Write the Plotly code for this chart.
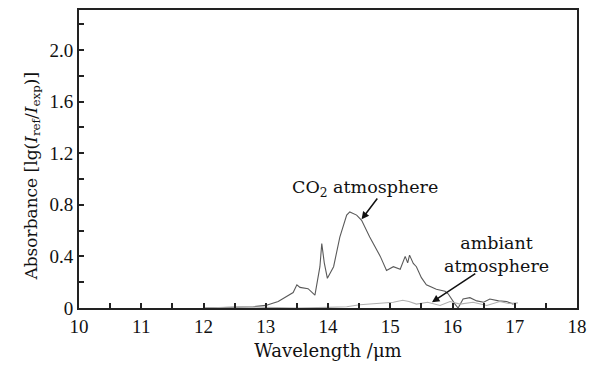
import plotly.graph_objects as go

# CO2 atmosphere absorbance
co2_x = [12.0, 12.5, 12.8, 13.0, 13.2, 13.44, 13.50, 13.55, 13.68, 13.79, 13.87, 13.90, 13.94, 13.99,
         14.09, 14.19, 14.30, 14.35, 14.46, 14.54, 14.67, 14.84, 14.94, 15.05, 15.16, 15.24,
         15.28, 15.31, 15.37, 15.42, 15.50, 15.58, 15.74, 15.88, 15.93, 16.04, 16.09, 16.17,
         16.28, 16.39, 16.50, 16.60, 16.74, 16.87, 16.98]
co2_y = [0.0, 0.005, 0.01, 0.02, 0.05, 0.12, 0.18, 0.16, 0.15, 0.10, 0.32, 0.50, 0.35, 0.23,
         0.32, 0.55, 0.72, 0.745, 0.72, 0.68, 0.55, 0.40, 0.29, 0.32, 0.30, 0.40,
         0.35, 0.41, 0.345, 0.32, 0.235, 0.18, 0.145, 0.13, 0.11, 0.03, 0.0, 0.07,
         0.08, 0.055, 0.045, 0.07, 0.055, 0.05, 0.03]

# Ambient atmosphere absorbance
amb_x = [12.0, 12.6, 13.0, 13.5, 14.0, 14.3, 14.51, 14.84, 15.05, 15.2, 15.3, 15.42, 15.6,
         15.8, 15.96, 16.12, 16.33, 16.55, 16.76, 16.9, 17.05]
amb_y = [0.0, 0.01, 0.005, 0.0, 0.005, 0.01, 0.025, 0.04, 0.045, 0.06, 0.05, 0.03, 0.045,
         0.02, 0.05, 0.03, 0.045, 0.02, 0.05, 0.035, 0.04]

x_tick_vals = [10, 11, 12, 13, 14, 15, 16, 17, 18]
y_tick_vals = [0, 0.4, 0.8, 1.2, 1.6, 2.0]
y_tick_text = ["0", "0.4", "0.8", "1.2", "1.6", "2.0"]

TICKFONT = "Liberation Serif"
TEXTFONT = "DejaVu Serif"

fig = go.Figure()
fig.add_trace(go.Scatter(x=co2_x, y=co2_y, mode="lines",
                         line=dict(color="#5a5a5a", width=1.1), showlegend=False))
fig.add_trace(go.Scatter(x=amb_x, y=amb_y, mode="lines",
                         line=dict(color="#b0b0b0", width=1.1), showlegend=False))

fig.add_annotation(x=14.59, y=0.93, text="CO<sub>2</sub> atmosphere", showarrow=False,
                   font=dict(family=TEXTFONT, size=17.5, color="#111"))
fig.add_annotation(x=14.54, y=0.687, ax=14.81, ay=0.86, axref="x", ayref="y",
                   text="", showarrow=True, arrowhead=2, arrowsize=1, arrowwidth=1.5,
                   arrowcolor="#111")
fig.add_annotation(x=16.70, y=0.415, text="ambiant<br>atmosphere", showarrow=False,
                   font=dict(family=TEXTFONT, size=17.5, color="#111"))
fig.add_annotation(x=15.67, y=0.044, ax=16.39, ay=0.274, axref="x", ayref="y",
                   text="", showarrow=True, arrowhead=2, arrowsize=1, arrowwidth=1.5,
                   arrowcolor="#111")

# y-axis title placed as rotated annotation (to match vertical position)
fig.add_annotation(x=-0.094, y=1.02, xref="paper", yref="y", textangle=-90,
                   text="Absorbance [lg(<i>I</i><sub>ref</sub>/<i>I</i><sub>exp</sub>)]",
                   showarrow=False, xanchor="center", yanchor="middle",
                   font=dict(family=TEXTFONT, size=17, color="#111"))

fig.update_xaxes(range=[10, 18], tickvals=x_tick_vals, ticks="inside", ticklen=5,
                 tickwidth=1.5, tickcolor="#222",
                 minor=dict(dtick=0.5, ticks="inside", ticklen=5, tickwidth=1.5, tickcolor="#222"),
                 showline=True, linecolor="#222", linewidth=2, mirror=True,
                 showgrid=False, zeroline=False,
                 title=dict(text="Wavelength /μm", font=dict(family=TEXTFONT, size=18, color="#111"),
                            standoff=9),
                 tickfont=dict(family=TICKFONT, size=19, color="#111"))
fig.update_yaxes(range=[0, 2.31], tickvals=y_tick_vals, ticktext=y_tick_text, ticks="inside",
                 ticklen=5, tickwidth=1.5, tickcolor="#222",
                 minor=dict(dtick=0.2, tick0=0, ticks="inside", ticklen=5, tickwidth=1.5,
                            tickcolor="#222"),
                 showline=True, linecolor="#222", linewidth=2, mirror=True,
                 showgrid=False, zeroline=False,
                 tickfont=dict(family=TICKFONT, size=19, color="#111"))

fig.update_layout(width=603, height=366, margin=dict(l=79, r=26, t=8, b=57),
                  paper_bgcolor="white", plot_bgcolor="white",
                  font=dict(family=TEXTFONT, size=16, color="#111"))

fig.write_html("out.html")
